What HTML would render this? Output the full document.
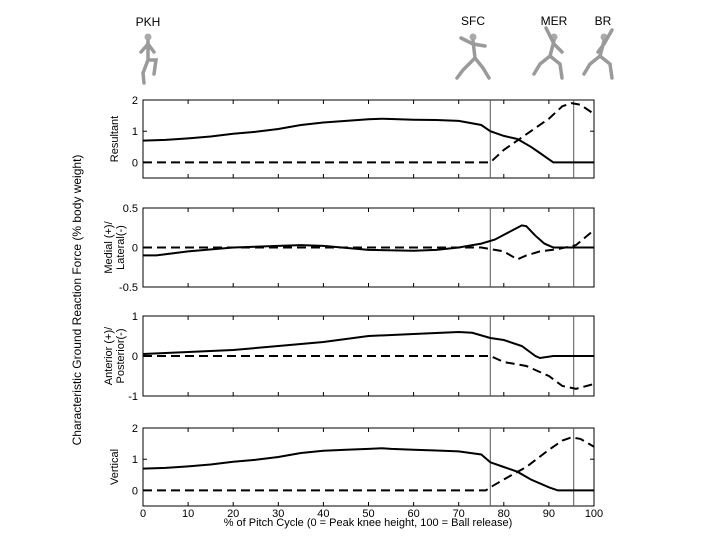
<!DOCTYPE html>
<html><head><meta charset="utf-8"><style>
body{margin:0;background:#fff}
svg{display:block;font-family:"Liberation Sans",Arial,sans-serif}
</style></head><body>
<svg id="c" width="720" height="540" viewBox="0 0 720 540">
<g id="figs" transform="translate(0,-52)"></g>
<text x="148" y="26" font-size="12" text-anchor="middle">PKH</text>
<text x="473" y="25" font-size="12" text-anchor="middle">SFC</text>
<text x="554" y="25" font-size="12" text-anchor="middle">MER</text>
<text x="603" y="25" font-size="12" text-anchor="middle">BR</text>
<text transform="translate(81,300) rotate(-90)" font-size="12" text-anchor="middle">Characteristic Ground Reaction Force (% body weight)</text>
<text x="368" y="526" font-size="11" text-anchor="middle">% of Pitch Cycle (0 = Peak knee height, 100 = Ball release)</text>
</svg>
<script>
const xTicks=[0,10,20,30,40,50,60,70,80,90,100];
const events=[77,95.5];
const resX=[0,5,10,15,20,25,30,35,40,45,50,53,55,60,65,70,75,77,80,83,86,88,90,91,100];
const resSolid=[0.7,0.72,0.77,0.83,0.92,0.98,1.07,1.2,1.28,1.33,1.38,1.4,1.39,1.37,1.36,1.33,1.2,1.0,0.85,0.75,0.5,0.3,0.1,0,0];
const resDX=[0,77,80,85,90,93,95,97,100];
const resDashed=[0,0,0.4,0.9,1.4,1.8,1.9,1.85,1.55];
const mlX=[0,3,10,20,30,35,40,50,60,65,70,75,78,82,84,85,87,89,91,100];
const mlSolid=[-0.1,-0.1,-0.05,0,0.02,0.03,0.02,-0.03,-0.04,-0.03,0,0.05,0.1,0.22,0.28,0.27,0.15,0.05,0,0];
const mlDX=[0,75,80,83,85,88,92,96,100];
const mlDashed=[0,0,-0.05,-0.15,-0.1,-0.05,-0.02,0.03,0.22];
const apX=[0,10,20,30,40,50,60,70,73,77,80,84,87,88,91,100];
const apSolid=[0.05,0.1,0.15,0.25,0.35,0.5,0.55,0.6,0.58,0.45,0.4,0.25,0,-0.05,0,0];
const apDX=[0,77,80,85,90,93,96,100];
const apDashed=[0,0,-0.15,-0.25,-0.5,-0.75,-0.82,-0.7];
const vX=[0,5,10,15,20,25,30,35,40,45,50,53,55,60,65,70,75,77,80,83,86,90,92,100];
const vSolid=[0.7,0.72,0.77,0.83,0.92,0.98,1.07,1.2,1.27,1.3,1.33,1.35,1.33,1.3,1.28,1.25,1.15,0.9,0.75,0.6,0.35,0.1,0,0];
const vDX=[0,76,77,80,85,90,93,95,97,100];
const vDashed=[0,0,0.1,0.35,0.75,1.3,1.6,1.7,1.65,1.4];

const NS="http://www.w3.org/2000/svg";
const svg=document.getElementById('c');
const X0=143,X1=594;
const xs=v=>X0+(v/100)*(X1-X0);
function mk(tag,at,parent){const e=document.createElementNS(NS,tag);for(const k in at)e.setAttribute(k,at[k]);(parent||svg).appendChild(e);return e;}
const panels=[
 {name:'resultant',top:100,bot:178,lo:-0.5,hi:2,ticks:[0,1,2],lab:['Resultant'],sx:resX,sy:resSolid,dx:resDX,dy:resDashed},
 {name:'medial-lateral',top:208,bot:287,lo:-0.5,hi:0.5,ticks:[-0.5,0,0.5],lab:['Medial (+)/','Lateral(-)'],sx:mlX,sy:mlSolid,dx:mlDX,dy:mlDashed},
 {name:'anterior-posterior',top:316,bot:396,lo:-1,hi:1,ticks:[-1,0,1],lab:['Anterior (+)/','Posterior(-)'],sx:apX,sy:apSolid,dx:apDX,dy:apDashed},
 {name:'vertical',top:428,bot:506,lo:-0.5,hi:2,ticks:[0,1,2],lab:['Vertical'],sx:vX,sy:vSolid,dx:vDX,dy:vDashed}
];
panels.forEach((p,i)=>{
 const g=mk('g',{});
 
 
 const ys=v=>p.bot-(v-p.lo)/(p.hi-p.lo)*(p.bot-p.top);
 const fr=mk('rect',{x:X0,y:p.top,width:X1-X0,height:p.bot-p.top,fill:'none',stroke:'#000','stroke-width':1},g);
 
 
 xTicks.forEach(t=>{
  mk('line',{x1:xs(t),x2:xs(t),y1:p.bot,y2:p.bot-4,stroke:'#000'},g);
  mk('line',{x1:xs(t),x2:xs(t),y1:p.top,y2:p.top+4,stroke:'#000'},g);
  if(i===3){const tl=mk('text',{x:xs(t),y:p.bot+11,'font-size':11,'text-anchor':'middle'},g);tl.textContent=t;
   
   }
 });
 p.ticks.forEach(t=>{
  mk('line',{x1:X0,x2:X0+4,y1:ys(t),y2:ys(t),stroke:'#000'},g);
  mk('line',{x1:X1,x2:X1-4,y1:ys(t),y2:ys(t),stroke:'#000'},g);
  const tl=mk('text',{x:X0-5,y:ys(t)+4,'font-size':11,'text-anchor':'end'},g);tl.textContent=t;
  
  
 });
 const cy=(p.top+p.bot)/2;
 p.lab.forEach((l,k)=>{
  const off=(k-(p.lab.length-1)/2)*12;
  const t=mk('text',{transform:`translate(${114+off+4},${cy}) rotate(-90)`,'font-size':11,'text-anchor':'middle'},g);t.textContent=l;
  
  
 });
 events.forEach(e=>{
  const l=mk('line',{x1:xs(e),x2:xs(e),y1:p.top,y2:p.bot,stroke:'#555','stroke-width':1},g);
  
  
 });
 const sp=mk('path',{d:p.sx.map((v,k)=>(k?'L':'M')+xs(v).toFixed(1)+','+ys(p.sy[k]).toFixed(1)).join(''),fill:'none',stroke:'#000','stroke-width':2},g);
 
 
 const dp=mk('path',{d:p.dx.map((v,k)=>(k?'L':'M')+xs(v).toFixed(1)+','+ys(p.dy[k]).toFixed(1)).join(''),fill:'none',stroke:'#000','stroke-width':2,'stroke-dasharray':'9,5'},g);
 
 
});
const figs=document.getElementById('figs');
function fig(cx,pose){
 const g=mk('g',{stroke:'#9a9a9a','stroke-width':3.5,'stroke-linecap':'round',fill:'none'},figs);
 
 
 mk('circle',{cx:cx,cy:89,r:3.5,fill:'#aaa',stroke:'none'},g);
 mk('path',{d:pose.map(s=>'M'+s.map(q=>(cx+q[0])+','+q[1]).join('L')).join('')},g);
}
fig(148,[[[0,93],[0,112]],[[0,112],[-5,125],[-4,135]],[[0,112],[8,112],[6,126]],[[0,96],[-7,104]],[[0,96],[6,104]]]);
fig(473,[[[0,93],[2,110]],[[2,110],[-10,122],[-16,130]],[[2,110],[10,120],[16,130]],[[0,96],[-12,90]],[[0,96],[12,98]]]);
fig(554,[[[0,93],[-4,108]],[[-4,108],[-14,116],[-20,126]],[[-4,108],[6,116],[8,130]],[[0,96],[-8,80]],[[0,96],[8,104]]]);
fig(604,[[[0,93],[-4,108]],[[-4,108],[-14,116],[-20,126]],[[-4,108],[6,116],[8,130]],[[0,96],[8,82]],[[0,96],[-6,104]]]);
</script>
</body></html>
